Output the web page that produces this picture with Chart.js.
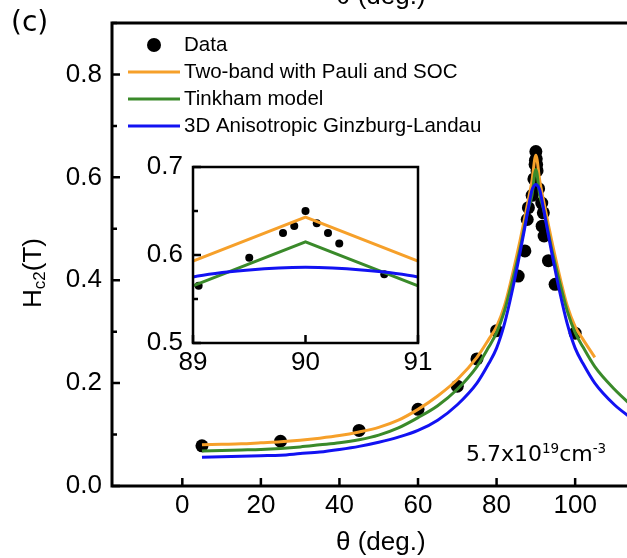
<!DOCTYPE html>
<html>
<head>
<meta charset="utf-8">
<script src="https://cdn.jsdelivr.net/npm/chart.js@4.4.0/dist/chart.umd.min.js"></script>
<style>
  html, body { margin: 0; padding: 0; background: #fff; overflow: hidden; }
  #wrap { position: relative; width: 627px; height: 558px; }
  canvas { position: absolute; }
  #main { left: 0; top: 0; }
  #inset { left: 140px; top: 145px; }
  .lbl { position: absolute; white-space: nowrap; color: #000; }
  .arial { font-family: "Liberation Sans", Arial, sans-serif; font-size: 26px; line-height: 26px; }
  #prev { left: 336px; top: -18px; }
  #xtitle { left: 336px; top: 528px; }
  #panel { left: 11px; top: 8px; font-family: "DejaVu Sans", sans-serif; font-size: 28px; line-height: 28px; }
  #ytitle { left: 31.5px; top: 272.5px; transform: translate(-50%, -50%) rotate(-90deg); }
  #ytitle .sub { font-size: 17px; line-height: 0; position: relative; top: 4px; }
  #note { left: 466px; top: 443px; font-family: "DejaVu Sans", sans-serif; font-size: 22px; line-height: 22px; }
  #note .sup { font-size: 13.5px; line-height: 0; position: relative; top: -8px; }
</style>
</head>
<body>
<div id="wrap">
  <canvas id="main" width="627" height="558"></canvas>
  <canvas id="inset" width="310" height="240"></canvas>
  <div class="lbl arial" id="prev">θ (deg.)</div>
  <div class="lbl arial" id="xtitle">θ (deg.)</div>
  <div class="lbl" id="panel">(c)</div>
  <div class="lbl arial" id="ytitle">H<span class="sub">c2</span>(T)</div>
  <div class="lbl" id="note">5.7x10<span class="sup">19</span>cm<span class="sup">-3</span></div>
</div>
<script>
var dataTheta = [5, 25, 45, 60, 70, 75, 80, 85.5, 87.2, 87.8, 88.1, 89.05, 89.5, 89.8, 89.9, 90, 90.1, 90.2, 90.3, 90.7, 91.5, 91.9, 91.6, 92.1, 93.2, 94.9, 100];
var dataHc2   = [0.078, 0.087, 0.108, 0.149, 0.194, 0.247, 0.302, 0.408, 0.457, 0.518, 0.541, 0.565, 0.597, 0.625, 0.633, 0.650, 0.636, 0.625, 0.613, 0.578, 0.550, 0.531, 0.505, 0.486, 0.438, 0.392, 0.297];

// modelo de dos bandas (Pauli + SOC)
var twoBandTheta = [5, 10, 15, 20, 25, 30, 35, 40, 45, 50, 55, 60, 65, 70, 75, 78, 80, 82, 84, 86, 87, 88, 89, 90, 91, 92, 93, 94, 96, 98, 100, 102, 105];
var twoBandHc2   = [0.080, 0.081, 0.082, 0.084, 0.086, 0.089, 0.093, 0.098, 0.105, 0.114, 0.128, 0.149, 0.175, 0.207, 0.250, 0.285, 0.310, 0.350, 0.410, 0.478, 0.515, 0.553, 0.593, 0.643, 0.593, 0.553, 0.515, 0.478, 0.410, 0.350, 0.310, 0.285, 0.250];

// modelo de Tinkham
var tinkhamTheta = [5, 10, 15, 20, 25, 30, 35, 40, 45, 50, 55, 60, 65, 70, 75, 78, 80, 82, 84, 86, 87, 88, 89, 90, 91, 92, 93, 94, 96, 98, 100, 102, 105, 110, 115];
var tinkhamHc2   = [0.068, 0.069, 0.070, 0.071, 0.073, 0.076, 0.080, 0.084, 0.090, 0.099, 0.113, 0.133, 0.156, 0.188, 0.232, 0.270, 0.298, 0.340, 0.398, 0.462, 0.500, 0.537, 0.565, 0.615, 0.565, 0.537, 0.500, 0.462, 0.398, 0.340, 0.298, 0.270, 0.232, 0.188, 0.152];

// Ginzburg-Landau anisotropico 3D
var glTheta = [5, 10, 15, 20, 25, 30, 35, 40, 45, 50, 55, 60, 65, 70, 75, 78, 80, 82, 84, 86, 87, 88, 89, 89.5, 90, 90.5, 91, 92, 93, 94, 96, 98, 100, 102, 105, 110, 115];
var glHc2   = [0.056, 0.057, 0.058, 0.059, 0.060, 0.063, 0.066, 0.071, 0.077, 0.085, 0.095, 0.108, 0.128, 0.158, 0.200, 0.238, 0.268, 0.315, 0.380, 0.455, 0.495, 0.537, 0.575, 0.583, 0.586, 0.583, 0.575, 0.537, 0.495, 0.455, 0.380, 0.315, 0.268, 0.238, 0.200, 0.158, 0.128];

// marcas de los ejes
var mainXTicks = [0, 20, 40, 60, 80, 100];
var mainYTicks = [0, 0.2, 0.4, 0.6, 0.8];
var mainYMinor = [0.1, 0.3, 0.5, 0.7, 0.9];
var insetXTicks = [89, 90, 91];
var insetYTicks = [0.5, 0.6, 0.7];
var insetYMinor = [0.55, 0.65];

var labels = ['Data', 'Two-band with Pauli and SOC', 'Tinkham model', '3D Anisotropic Ginzburg-Landau'];
var colors = ['#000000', 'rgb(246,160,42)', 'rgb(58,138,42)', 'rgb(18,18,242)'];

function pts(xs, ys) {
    return xs.map(function (x, i) { return { x: x, y: ys[i] }; });
}

Chart.defaults.font.family = '"Liberation Sans", Arial, sans-serif';
Chart.defaults.color = '#000';

// marcas hacia adentro y marco
var inwardTicks = {
    id: 'inwardTicks',
    afterDraw: function (chart, args, o) {
        var ctx = chart.ctx, a = chart.chartArea, x = chart.scales.x, y = chart.scales.y;
        ctx.save();
        ctx.strokeStyle = '#000';
        ctx.lineWidth = o.width;
        ctx.beginPath();
        x.ticks.forEach(function (t) {
            var px = x.getPixelForValue(t.value);
            ctx.moveTo(px, a.bottom); ctx.lineTo(px, a.bottom - o.major);
        });
        y.ticks.forEach(function (t) {
            var py = y.getPixelForValue(t.value);
            ctx.moveTo(a.left, py); ctx.lineTo(a.left + o.major, py);
        });
        (o.yMinor || []).forEach(function (v) {
            var py = y.getPixelForValue(v);
            ctx.moveTo(a.left, py); ctx.lineTo(a.left + o.minor, py);
        });
        ctx.stroke();
        ctx.lineWidth = o.frame;
        ctx.beginPath();
        if (o.box) {
            ctx.rect(a.left, a.top, a.right - a.left, a.bottom - a.top);
        } else {
            ctx.moveTo(a.right + 5, a.top); ctx.lineTo(a.left, a.top);
            ctx.lineTo(a.left, a.bottom); ctx.lineTo(a.right + 5, a.bottom);
        }
        ctx.stroke();
        ctx.restore();
    }
};

// leyenda dentro del grafico
var legendBox = {
    id: 'legendBox',
    afterDraw: function (chart, args, o) {
        if (!o.show) return;
        var ctx = chart.ctx;
        ctx.save();
        ctx.font = '20.5px "Liberation Sans", Arial, sans-serif';
        ctx.textBaseline = 'middle';
        ctx.fillStyle = '#000';
        labels.forEach(function (lab, i) {
            var yy = o.y + i * o.gap;
            if (i === 0) {
                ctx.beginPath();
                ctx.arc(o.dotX, yy, 7, 0, Math.PI * 2);
                ctx.fill();
            } else {
                ctx.strokeStyle = colors[i];
                ctx.lineWidth = 3;
                ctx.beginPath();
                ctx.moveTo(o.x0, yy); ctx.lineTo(o.x1, yy);
                ctx.stroke();
            }
            ctx.fillStyle = '#000';
            ctx.fillText(lab, o.textX, yy);
        });
        ctx.restore();
    }
};

function datasets(dotR, straight) {
    var peak = straight ? { tension: 0 } : { cubicInterpolationMode: 'monotone' };
    return [
        { label: labels[0], data: pts(dataTheta, dataHc2), pointRadius: dotR, pointBackgroundColor: '#000', pointBorderWidth: 0, order: 4 },
        Object.assign({ label: labels[1], data: pts(twoBandTheta, twoBandHc2), showLine: true, pointRadius: 0, borderColor: colors[1], borderWidth: 3, order: 3 }, peak),
        Object.assign({ label: labels[2], data: pts(tinkhamTheta, tinkhamHc2), showLine: true, pointRadius: 0, borderColor: colors[2], borderWidth: 3, order: 2 }, peak),
        { label: labels[3], data: pts(glTheta, glHc2), showLine: true, pointRadius: 0, borderColor: colors[3], borderWidth: 3, order: 1, cubicInterpolationMode: 'monotone' }
    ];
}

function axis(min, max, ticks, size, fmt, pad) {
    return {
        type: 'linear', min: min, max: max,
        grid: { display: false, drawTicks: false },
        border: { display: false },
        afterBuildTicks: function (s) { s.ticks = ticks.map(function (v) { return { value: v }; }); },
        afterFit: function (s) {
            if (s.isHorizontal()) s.height = size; else s.width = size;
            s.paddingLeft = 0; s.paddingRight = 0; s.paddingTop = 0; s.paddingBottom = 0;
        },
        ticks: { font: { size: 26, lineHeight: 1 }, padding: pad, callback: fmt }
    };
}
var fmtInt = function (v) { return String(Math.round(v)); };
var fmt1 = function (v) { return v.toFixed(1); };

new Chart(document.getElementById('main'), {
    type: 'scatter',
    data: { datasets: datasets(6.5, false) },
    options: {
        responsive: false, animation: false, devicePixelRatio: 1,
        layout: { autoPadding: false, padding: { top: 23, right: 0, left: 0, bottom: 0 } },
        scales: {
            x: axis(-17.9, 113.2, mainXTicks, 72, fmtInt, 7),
            y: axis(0, 0.9, mainYTicks, 112, fmt1, 10)
        },
        plugins: {
            legend: { display: false }, tooltip: { enabled: false },
            inwardTicks: { width: 2.5, major: 8, minor: 5, frame: 3, yMinor: mainYMinor, box: false },
            legendBox: { show: true, y: 45, gap: 27, dotX: 154, x0: 128, x1: 180, textX: 184 }
        }
    },
    plugins: [inwardTicks, legendBox]
});

new Chart(document.getElementById('inset'), {
    type: 'scatter',
    data: { datasets: datasets(4, true) },
    options: {
        responsive: false, animation: false, devicePixelRatio: 1,
        layout: { autoPadding: false, padding: { top: 22, right: 32, left: 0, bottom: 0 } },
        scales: {
            x: axis(89, 91, insetXTicks, 42, fmtInt, 7),
            y: axis(0.5, 0.7, insetYTicks, 53, fmt1, 10)
        },
        plugins: {
            legend: { display: false }, tooltip: { enabled: false },
            inwardTicks: { width: 2.5, major: 8, minor: 5, frame: 2.5, yMinor: insetYMinor, box: true },
            legendBox: { show: false }
        }
    },
    plugins: [inwardTicks, legendBox]
});
</script>
</body>
</html>
